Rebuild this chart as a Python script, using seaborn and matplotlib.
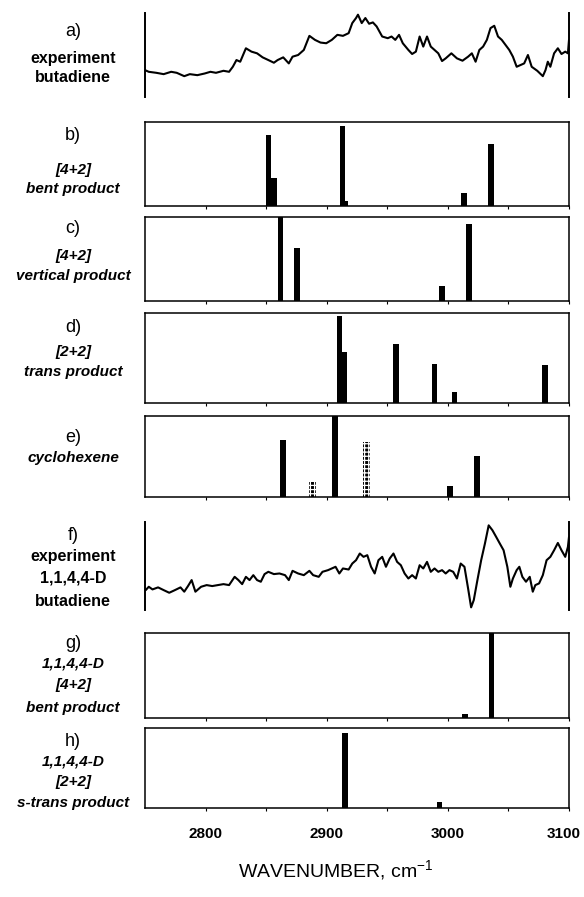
import numpy as np
import matplotlib
matplotlib.use("Agg")
import matplotlib.pyplot as plt
import matplotlib.transforms as mtransforms
import seaborn as sns
import pandas as pd

sns.set_theme(style="white")
plt.rcParams['font.family'] = ['Liberation Sans', 'DejaVu Sans']
plt.rcParams['mathtext.fontset'] = 'custom'
plt.rcParams['mathtext.rm'] = 'Liberation Sans'
plt.rcParams['mathtext.it'] = 'Liberation Sans:italic'
plt.rcParams['hatch.linewidth'] = 0.9
plt.rcParams['text.color'] = 'black'
plt.rcParams['xtick.color'] = 'black'

# ---------------- data ----------------
exp_a_wn = [2750.0, 2753.1, 2759.3, 2765.4, 2771.6, 2776.2, 2782.4, 2787.0, 2793.2, 2799.3,
            2804.0, 2808.6, 2814.8, 2819.4, 2822.5, 2825.5, 2828.6, 2833.3, 2837.9, 2842.5,
            2847.1, 2851.8, 2856.4, 2859.5, 2864.1, 2868.7, 2871.8, 2876.4, 2881.1, 2885.7,
            2890.3, 2894.9, 2899.6, 2904.2, 2908.8, 2913.4, 2918.1, 2921.1, 2924.2, 2925.8,
            2928.9, 2931.9, 2935.0, 2938.1, 2941.2, 2945.8, 2950.4, 2953.5, 2956.6, 2959.7,
            2962.8, 2967.4, 2970.5, 2973.6, 2976.7, 2979.7, 2982.8, 2985.9, 2989.0, 2992.1,
            2995.2, 2998.2, 3002.9, 3007.5, 3012.1, 3016.7, 3019.8, 3022.9, 3026.0, 3029.1,
            3032.2, 3035.2, 3038.3, 3041.4, 3044.5, 3047.6, 3050.7, 3053.7, 3056.8, 3059.9,
            3063.0, 3066.1, 3069.2, 3073.8, 3078.4, 3080.6, 3082.5, 3084.6, 3087.7, 3090.8,
            3093.8, 3096.9, 3099.1, 3100.0]
exp_a_int = [0.32, 0.30, 0.288, 0.272, 0.30, 0.288, 0.248, 0.272, 0.26, 0.28,
             0.30, 0.288, 0.312, 0.30, 0.36, 0.44, 0.42, 0.58, 0.54, 0.52,
             0.472, 0.44, 0.408, 0.44, 0.472, 0.40, 0.48, 0.50, 0.56, 0.728,
             0.68, 0.648, 0.64, 0.68, 0.74, 0.728, 0.76, 0.88, 0.94, 0.98,
             0.88, 0.94, 0.872, 0.888, 0.84, 0.72, 0.70, 0.72, 0.68, 0.74,
             0.64, 0.56, 0.512, 0.54, 0.72, 0.60, 0.72, 0.60, 0.56, 0.52,
             0.428, 0.46, 0.52, 0.46, 0.432, 0.48, 0.52, 0.42, 0.56, 0.60,
             0.68, 0.82, 0.848, 0.72, 0.68, 0.62, 0.56, 0.48, 0.36, 0.38,
             0.40, 0.50, 0.36, 0.312, 0.248, 0.32, 0.42, 0.36, 0.52, 0.58,
             0.512, 0.54, 0.52, 0.68]

exp_f_wn = [2750.6, 2753.1, 2756.2, 2760.8, 2765.4, 2770.0, 2774.7, 2779.3, 2782.4, 2785.5,
            2788.5, 2791.6, 2796.3, 2800.9, 2805.5, 2810.1, 2814.8, 2819.4, 2824.0, 2827.1,
            2830.2, 2833.3, 2836.3, 2839.4, 2842.5, 2845.6, 2848.7, 2851.8, 2856.4, 2861.0,
            2865.6, 2868.7, 2871.8, 2876.4, 2881.1, 2885.7, 2888.8, 2893.4, 2896.5, 2901.1,
            2904.2, 2907.3, 2910.4, 2913.4, 2918.1, 2921.1, 2924.2, 2927.3, 2930.4, 2933.5,
            2936.6, 2939.6, 2942.7, 2945.8, 2948.9, 2952.0, 2955.1, 2958.1, 2961.2, 2964.3,
            2967.4, 2970.5, 2973.6, 2976.7, 2979.7, 2982.8, 2985.9, 2989.0, 2992.1, 2995.2,
            2998.2, 3001.3, 3004.4, 3007.5, 3010.6, 3013.7, 3016.7, 3019.2, 3021.4, 3024.4,
            3027.5, 3030.6, 3033.7, 3036.8, 3039.9, 3042.9, 3046.0, 3049.1, 3051.6, 3053.7,
            3056.8, 3059.0, 3061.5, 3064.5, 3067.6, 3070.1, 3072.2, 3075.3, 3078.4, 3081.5,
            3084.6, 3087.7, 3090.8, 3093.8, 3096.9, 3099.1, 3100.0]
exp_f_int = [0.226, 0.264, 0.234, 0.257, 0.226, 0.196, 0.226, 0.257, 0.208, 0.272,
             0.340, 0.208, 0.264, 0.283, 0.272, 0.283, 0.294, 0.283, 0.377, 0.340,
             0.294, 0.377, 0.340, 0.396, 0.340, 0.321, 0.408, 0.434, 0.408, 0.415,
             0.396, 0.340, 0.445, 0.415, 0.396, 0.445, 0.396, 0.377, 0.434, 0.453,
             0.472, 0.491, 0.415, 0.472, 0.460, 0.528, 0.566, 0.642, 0.604, 0.623,
             0.491, 0.415, 0.566, 0.604, 0.491, 0.585, 0.642, 0.547, 0.509, 0.415,
             0.358, 0.396, 0.358, 0.509, 0.472, 0.547, 0.434, 0.472, 0.434, 0.453,
             0.415, 0.453, 0.434, 0.358, 0.528, 0.491, 0.245, 0.030, 0.113, 0.340,
             0.566, 0.755, 0.962, 0.906, 0.830, 0.755, 0.679, 0.491, 0.264, 0.358,
             0.453, 0.491, 0.377, 0.321, 0.377, 0.208, 0.283, 0.302, 0.396, 0.566,
             0.604, 0.679, 0.762, 0.679, 0.604, 0.717, 0.830]

b_pos = [2852.0, 2856.5, 2913.0, 2915.5, 3013.5, 3035.5]
b_int = [0.85, 0.33, 0.95, 0.06, 0.15, 0.74]
c_pos = [2862.0, 2875.5, 2995.0, 3017.5]
c_int = [1.0, 0.63, 0.18, 0.92]
d_pos = [2910.5, 2914.5, 2957.0, 2989.0, 3005.5, 3080.0]
d_int = [0.97, 0.57, 0.65, 0.43, 0.12, 0.42]
e_pos = [2864.0, 2907.0, 3001.5, 3024.0]
e_int = [0.70, 1.0, 0.14, 0.51]
e_dot_pos = [2888.0, 2933.0]
e_dot_int = [0.19, 0.68]
g_pos = [3014.0, 3036.0]
g_int = [0.05, 1.0]
h_pos = [2915.0, 2993.0]
h_int = [0.94, 0.07]

tick_major = [2800, 2900, 3000, 3100]
tick_minor = [2850, 2950, 3050]
tick_labels = ["2800", "2900", "3000", "3100"]

labels_a = ["a)", "experiment", "butadiene"]
labels_b = ["b)", "[4+2]", "bent product"]
labels_c = ["c)", "[4+2]", "vertical product"]
labels_d = ["d)", "[2+2]", "trans product"]
labels_e = ["e)", "cyclohexene"]
labels_f = ["f)", "experiment", "1,1,4,4-D", "butadiene"]
labels_g = ["g)", "1,1,4,4-D", "[4+2]", "bent product"]
labels_h = ["h)", "1,1,4,4-D", "[2+2]", "s-trans product"]
xlabel_text = "WAVENUMBER, cm$^{-1}$"

# ---------------- layout ----------------
W, H = 584, 897
fig = plt.figure(figsize=(W / 100, H / 100), dpi=100)
fig.patch.set_facecolor("white")

def add_ax(top, bottom):
    return fig.add_axes([145 / W, 1 - bottom / H, 424 / W, (bottom - top) / H])

def style_box(ax, last=False):
    ax.set_xlim(2750, 3100)
    ax.set_ylim(0, 1)
    ax.set_facecolor("white")
    for s in ax.spines.values():
        s.set_visible(True)
        s.set_color("black")
        s.set_linewidth(1.1)
    ax.set_yticks([])
    ax.set_xticks(tick_major)
    ax.set_xticks(tick_minor, minor=True)
    ax.tick_params(axis="x", which="both", direction="out", length=2.5, width=0.8,
                   bottom=True, top=False, colors="black")
    if last:
        ax.set_xticklabels(tick_labels, fontsize=11, fontweight="bold")
        ax.tick_params(axis="x", which="major", pad=11)
        lbl = ax.get_xticklabels()[-1]
        lbl.set_transform(lbl.get_transform() +
                          mtransforms.ScaledTranslation(-5 / 100, 0, fig.dpi_scale_trans))
    else:
        ax.set_xticklabels([])
    ax.set_xlabel("")
    ax.set_ylabel("")
    ax.grid(False)

def style_exp(ax):
    ax.set_xlim(2750, 3100)
    ax.set_ylim(0, 1)
    ax.set_facecolor("white")
    for k in ["top", "bottom"]:
        ax.spines[k].set_visible(False)
    for k in ["left", "right"]:
        ax.spines[k].set_visible(True)
        ax.spines[k].set_color("black")
        ax.spines[k].set_linewidth(1.4)
    ax.set_xticks([])
    ax.set_yticks([])
    ax.set_xlabel("")
    ax.set_ylabel("")
    ax.grid(False)

def bars(ax, pos, inten, width=4.6):
    ax.bar(pos, inten, width=width, color="black", linewidth=0, align="center")

def add_labels(texts, ys, styles):
    for t, y, st in zip(texts, ys, styles):
        if st == "id":
            fig.text(73 / W, 1 - y / H, t, ha="center", va="center", fontsize=13)
        elif st == "bold":
            fig.text(73 / W, 1 - y / H, t, ha="center", va="center", fontsize=11.5,
                     fontweight="bold")
        else:
            fig.text(73 / W, 1 - y / H, t, ha="center", va="center", fontsize=11,
                     fontweight="bold", fontstyle="italic")

# a) experiment
ax_a = add_ax(13, 97)
sns.lineplot(x=exp_a_wn, y=exp_a_int, ax=ax_a, color="black", linewidth=1.5)
style_exp(ax_a)
add_labels(labels_a, [32, 58, 78], ["id", "bold", "bold"])

# b)
ax_b = add_ax(122, 206)
bars(ax_b, b_pos, b_int)
style_box(ax_b)
add_labels(labels_b, [135, 170, 189], ["id", "bi", "bi"])

# c)
ax_c = add_ax(217, 301)
bars(ax_c, c_pos, c_int)
style_box(ax_c)
add_labels(labels_c, [228, 256, 276], ["id", "bi", "bi"])

# d)
ax_d = add_ax(313, 403)
bars(ax_d, d_pos, d_int)
style_box(ax_d)
add_labels(labels_d, [327, 352, 372], ["id", "bi", "bi"])

# e)
ax_e = add_ax(416, 497)
bars(ax_e, e_pos, e_int, width=5.0)
ax_e.bar(e_dot_pos, e_dot_int, width=6.0, facecolor="black", edgecolor="white",
         hatch="++++", linewidth=0)
style_box(ax_e)
add_labels(labels_e, [437, 458], ["id", "bi"])

# f) experiment deuterated
ax_f = add_ax(522, 610)
sns.lineplot(x=exp_f_wn, y=exp_f_int, ax=ax_f, color="black", linewidth=1.5)
style_exp(ax_f)
add_labels(labels_f, [535, 557, 578, 601], ["id", "bold", "bold", "bold"])

# g)
ax_g = add_ax(633, 718)
bars(ax_g, g_pos, g_int)
style_box(ax_g)
add_labels(labels_g, [643, 663, 685, 708], ["id", "bi", "bi", "bi"])

# h)
ax_h = add_ax(728, 808)
bars(ax_h, h_pos, h_int)
style_box(ax_h, last=True)
add_labels(labels_h, [742, 761, 782, 803], ["id", "bi", "bi", "bi"])

fig.text(336 / W, 1 - 870 / H, xlabel_text, ha="center", va="center", fontsize=14)

fig.savefig("out.png", dpi=100, facecolor="white")
